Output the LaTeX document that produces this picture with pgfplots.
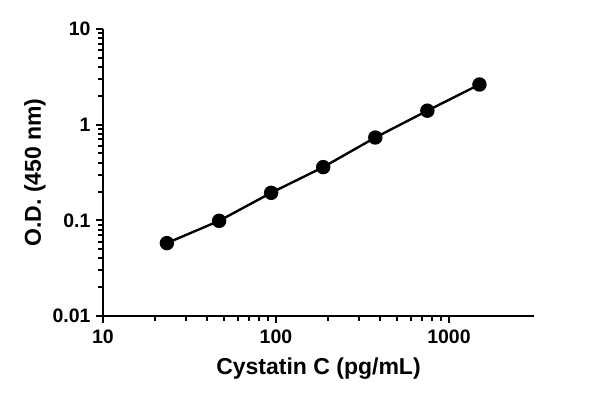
\documentclass[border=0pt]{standalone}
\usepackage{pgfplots}
\pgfplotsset{compat=1.18}
\usepackage{fontspec}
\setmainfont{Liberation Sans}
\begin{document}
\begin{tikzpicture}
\path[use as bounding box] (-103pt,-89pt) rectangle (497pt,316pt);
\begin{axis}[
  at={(0pt,0pt)}, anchor=south west,
  scale only axis,
  width=431pt, height=287pt,
  xmode=log, ymode=log,
  xmin=10, xmax=3100,
  ymin=0.01, ymax=10,
  axis lines=left,
  axis line style={-, line width=2.4pt},
  tick align=outside,
  major tick length=7pt,
  minor tick length=5pt,
  every tick/.style={black, line width=2pt},
  xtick={10,100,1000}, xticklabels={10,100,1000},
  ytick={0.01,0.1,1,10}, yticklabels={0.01,0.1,1,10},
  ticklabel style={font=\bfseries\fontsize{19.5}{20}\selectfont},
  xticklabel style={yshift=-3pt},
  yticklabel style={xshift=-2pt},
  xlabel={Cystatin C (pg/mL)},
  ylabel={O.D. (450 nm)},
  label style={font=\bfseries\fontsize{23}{24}\selectfont},
  xlabel style={yshift=-8pt},
  clip=false,
]
\addplot[black, line width=2.4pt, mark=*, mark size=6pt] coordinates {
(23.4,0.0578)
(46.9,0.0988)
(93.75,0.194)
(187.5,0.360)
(375,0.734)
(750,1.40)
(1500,2.63)
};
\end{axis}
\end{tikzpicture}
\end{document}
